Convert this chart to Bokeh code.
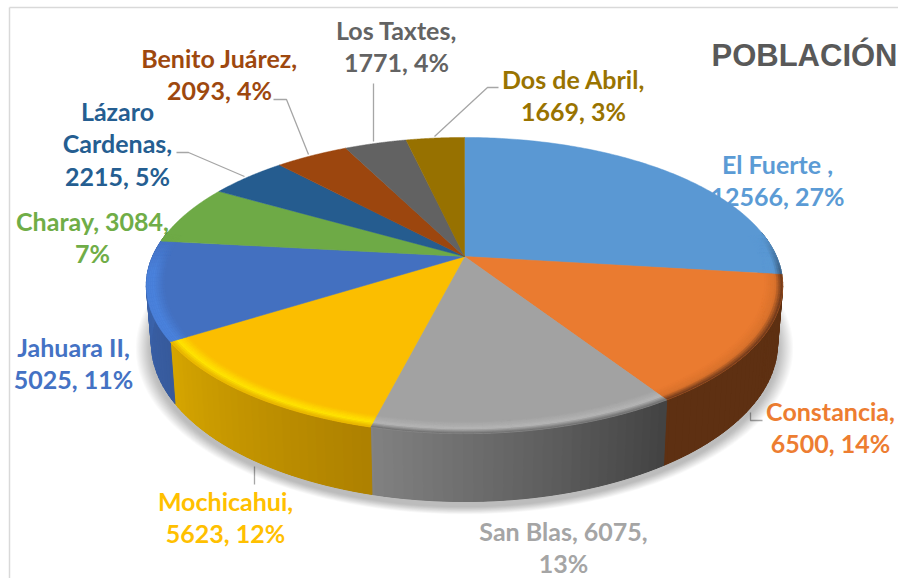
import numpy as np
from bokeh.plotting import figure
from bokeh.models import Range1d, ColumnDataSource
from bokeh.core.properties import value
from bokeh.embed import file_html
from bokeh.resources import INLINE

# ---------- data ----------
categories = ["El Fuerte ", "Constancia", "San Blas", "Mochicahui", "Jahuara II",
              "Charay", "Lázaro Cardenas", "Benito Juárez", "Los Taxtes", "Dos de Abril"]
values = [12566, 6500, 6075, 5623, 5025, 3084, 2215, 2093, 1771, 1669]
percents = [27, 14, 13, 12, 11, 7, 5, 4, 4, 3]
title_text = "POBLACIÓN"

# ---------- styles ----------
colors = ["#5B9BD5", "#ED7D31", "#A5A5A5", "#FFC000", "#4472C4",
          "#70AD47", "#255E91", "#9E480E", "#636363", "#997300"]
top_colors = ["#5A98D3", "#EA7B30", "#A2A2A2", "#FBBE00", "#4370C0",
              "#6EAA46", "#255C8F", "#9C460E", "#626262", "#977100"]
side_left = ["#34597A", "#5E3012", "#828282", "#D6A600", "#3C66B0",
             "#3F6329", "#153653", "#5A2908", "#393939", "#584200"]
side_right = ["#34597A", "#5E3012", "#424242", "#AD8000", "#375A9C",
              "#3F6329", "#153653", "#5A2908", "#393939", "#584200"]
band_mid = ["#5A98D3", "#D9722C", "#B6B6B6", "#FFE600", "#4A82DC",
            "#6EAA46", "#255C8F", "#9C460E", "#626262", "#977100"]
band_rim = ["#38597A", "#66351A", "#6A6A6A", "#E4B000", "#4A80DA",
            "#6EAA46", "#255C8F", "#9C460E", "#626262", "#977100"]

# ---------- projection of a circular disc ----------
CX, PERSP = 464.0, 0.196
TOP = dict(R=312.0, a=-92.2, b=256.0)
BOT = dict(R=307.0, a=-90.8, b=312.0)


def project(theta, r, g):
    u, v = r * np.sin(theta), r * np.cos(theta)
    den = 1 + PERSP * v
    return CX + g["R"] * u / den, (g["a"] * v + g["b"]) / den


def hex2rgb(h):
    return np.array([int(h[i:i + 2], 16) for i in (1, 3, 5)], dtype=float)


def mix(c1, c2, t):
    c = hex2rgb(c1) * (1 - t) + hex2rgb(c2) * t
    return "#%02x%02x%02x" % tuple(int(round(x)) for x in c)


total = sum(values)
edges = 2 * np.pi * np.concatenate([[0], np.cumsum(values)]) / total

p = figure(width=898, height=578, output_backend="svg", toolbar_location=None,
           x_range=Range1d(0, 898), y_range=Range1d(578, 0), min_border=0,
           background_fill_color="white", border_fill_color="white")
p.axis.visible = False
p.grid.visible = False
p.outline_line_color = None

# frame
p.line([9, 9], [578, 7], line_color="#D9D9D9", line_width=1.5)
p.line([9, 898], [7, 7], line_color="#D9D9D9", line_width=1.5)

# title
p.text([897], [55], text=[title_text], text_font=value("Liberation Sans"), text_font_style="bold",
       text_font_size="31px", text_color="#595959", text_align="right", text_baseline="middle")

# labels (under the pie, as in the reference)
v, q, n = values, percents, categories
label_lines = [
    [f"{n[0]},", f"{v[0]}, {q[0]}%"],
    [f"{n[1]},", f"{v[1]}, {q[1]}%"],
    [f"{n[2]}, {v[2]},", f"{q[2]}%"],
    [f"{n[3]},", f"{v[3]}, {q[3]}%"],
    [f"{n[4]},", f"{v[4]}, {q[4]}%"],
    [f"{n[5]}, {v[5]},", f"{q[5]}%"],
    ["Lázaro", "Cardenas,", f"{v[6]}, {q[6]}%"],
    [f"{n[7]},", f"{v[7]}, {q[7]}%"],
    [f"{n[8]},", f"{v[8]}, {q[8]}%"],
    [f"{n[9]},", f"{v[9]}, {q[9]}%"],
]
label_x = [777, 830, 563, 225, 73, 92, 117, 219, 396, 573]
label_y = [163, 410, 530, 500, 346, 220, 110, 57, 29, 78]
LINE_H = 32.6
tx, ty, tt, tc = [], [], [], []
for i, lines in enumerate(label_lines):
    for j, s in enumerate(lines):
        tx.append(label_x[i]); ty.append(label_y[i] + j * LINE_H); tt.append(s); tc.append(colors[i])
p.text(x="x", y="y", text="t", text_color="c", source=ColumnDataSource(dict(x=tx, y=ty, t=tt, c=tc)),
       text_font=value("Lato"), text_font_style="bold", text_font_size="25px",
       text_align="center", text_baseline="middle")

# leader lines
p.multi_line(
    xs=[[273, 286, 308], [373, 373], [176, 188, 244], [498, 487, 434], [254, 254], [750, 750, 762]],
    ys=[[99, 99, 154], [83, 141], [152, 152, 176], [87, 87, 136], [466, 484], [412, 420, 420]],
    line_color="#A6A6A6", line_width=1.3)

# soft shadow under the body
full = np.linspace(0, 2 * np.pi, 240)
sx, sy = project(full, 1.0, BOT)
cxs, cys = CX, 343.0
for k in range(14, 0, -1):
    f = 1 + k / 280.0
    p.patch(cxs + (sx - cxs) * f, cys + (sy - cys) * f + 5, fill_color="#000000", fill_alpha=0.02,
            line_color=None)

# side wall: one base shape per slice, then the shaded strips (left in the picture = larger angle)
bx, by, bc = [], [], []
xs, ys, cs = [], [], []
for i in range(len(values)):
    a0, a1 = edges[i], edges[i + 1]
    vis0, vis1 = max(a0, np.radians(80)), min(a1, np.radians(280))
    if vis1 <= vis0:
        continue
    ts = np.append(np.arange(vis0, vis1, np.radians(1.5)), vis1)
    tx0, ty0 = project(ts, 1.0, TOP)
    tx1, ty1 = project(ts[::-1], 1.0, BOT)
    bx.append(list(tx0) + list(tx1)); by.append(list(ty0) + list(ty1)); bc.append(mix(side_left[i], side_right[i], 0.5))
    for s0, s1 in zip(ts[:-1], ts[1:]):
        x0, y0 = project(np.array([s0, s1]), 1.0, TOP)
        x1, y1 = project(np.array([s1, s0]), 1.0, BOT)
        t = ((s0 + s1) / 2 - vis0) / (vis1 - vis0)
        col = mix(side_right[i], side_left[i], t)
        xs.append(list(x0) + list(x1)); ys.append(list(y0) + list(y1)); cs.append(col)
p.patches("xs", "ys", fill_color="c", line_color=None, source=ColumnDataSource(dict(xs=bx, ys=by, c=bc)))
p.patches("xs", "ys", fill_color="c", line_color="c", line_width=1.0,
          source=ColumnDataSource(dict(xs=xs, ys=ys, c=cs)))

# top face wedges
xs, ys, cs = [], [], []
for i in range(len(values)):
    th = np.linspace(edges[i], edges[i + 1], 120)
    x, y = project(th, 1.0, TOP)
    ax, ay = project(np.array([0.0]), 0.0, TOP)
    xs.append([ax[0]] + list(x)); ys.append([ay[0]] + list(y)); cs.append(top_colors[i])
p.patches("xs", "ys", fill_color="c", line_color="c", line_width=0.5,
          source=ColumnDataSource(dict(xs=xs, ys=ys, c=cs)))

# bevel band along the front rim
R_IN, R_MID, R_OUT = 0.945, 0.978, 1.0
rings = np.linspace(R_IN, R_OUT, 10)
xs, ys, cs = [], [], []
for i in range(len(values)):
    a0, a1 = edges[i], edges[i + 1]
    ts = np.append(np.arange(a0, a1, np.radians(1.5)), a1)
    for s0, s1 in zip(ts[:-1], ts[1:]):
        w = float(np.clip((0.15 - np.cos((s0 + s1) / 2)) / 0.25, 0, 1))
        if w <= 0:
            continue
        for r0, r1 in zip(rings[:-1], rings[1:]):
            rm = (r0 + r1) / 2
            if rm < R_MID:
                col = mix(top_colors[i], band_mid[i], (rm - R_IN) / (R_MID - R_IN))
            else:
                col = mix(band_mid[i], band_rim[i], (rm - R_MID) / (R_OUT - R_MID))
            col = mix(top_colors[i], col, w)
            x0, y0 = project(np.array([s0, s1]), r0, TOP)
            x1, y1 = project(np.array([s1, s0]), r1, TOP)
            xs.append(list(x0) + list(x1)); ys.append(list(y0) + list(y1)); cs.append(col)
p.patches("xs", "ys", fill_color="c", line_color="c", line_width=0.4,
          source=ColumnDataSource(dict(xs=xs, ys=ys, c=cs)))

open("out.html", "w").write(file_html(p, INLINE))
